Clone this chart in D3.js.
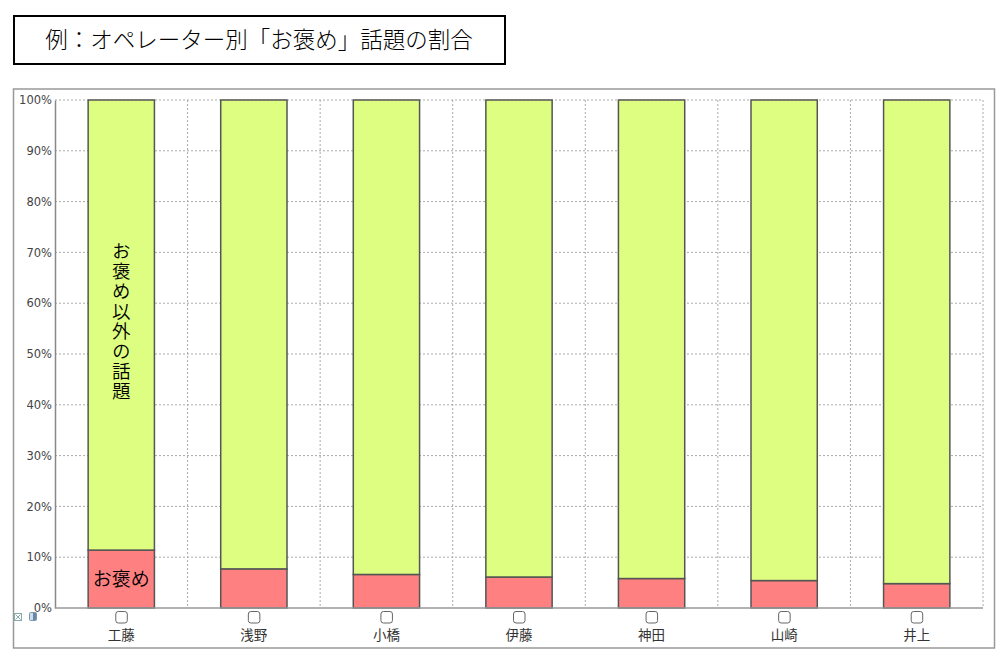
<!DOCTYPE html>
<html>
<head>
<meta charset="utf-8">
<script src="https://cdn.jsdelivr.net/npm/d3@7"></script>
<style>
  body { margin: 0; background: #fff; }
  svg { display: block; }
</style>
</head>
<body>
<div class="chart"></div>
<script>
// Data (percent)
var operators = ["工藤", "浅野", "小橋", "伊藤", "神田", "山崎", "井上"];
var praise = [11.4, 7.7, 6.6, 6.1, 5.8, 5.4, 4.8];
var other = praise.map(function(d) { return 100 - d; });
var y_ticks = [0, 10, 20, 30, 40, 50, 60, 70, 80, 90, 100];

var width = 1007, height = 662;
var plot = {left: 55, right: 983, top: 100, bottom: 608};

var svg = d3.select('.chart')
    .append('svg')
        .attr('width', width)
        .attr('height', height);

// title box
svg.append('rect')
    .attr('x', 14).attr('y', 16)
    .attr('width', 491).attr('height', 48)
    .attr('fill', 'none')
    .attr('stroke', '#000')
    .attr('stroke-width', 2);

svg.append('text')
    .attr('x', 259).attr('y', 48)
    .attr('text-anchor', 'middle')
    .style('font-family', '"Noto Sans CJK JP", sans-serif')
    .style('font-size', '22.5px')
    .style('font-weight', 300)
    .attr('fill', '#000')
    .text('例：オペレーター別「お褒め」話題の割合');

// chart frame
svg.append('rect')
    .attr('x', 13.5).attr('y', 89)
    .attr('width', 981).attr('height', 559)
    .attr('fill', 'none')
    .attr('stroke', '#999')
    .attr('stroke-width', 1.5);

var x = d3.scaleBand()
    .domain(operators)
    .range([plot.left, plot.right])
    .paddingInner(0.5)
    .paddingOuter(0.25);

var x_edges = d3.scaleLinear()
    .domain([0, operators.length])
    .range([plot.left, plot.right]);

var y = d3.scaleLinear()
    .domain([0, 100])
    .range([plot.bottom, plot.top]);

// horizontal grid
svg.append('g')
    .selectAll('line')
    .data(y_ticks.slice(1))
    .enter()
    .append('line')
        .attr('x1', plot.left).attr('x2', plot.right)
        .attr('y1', function(d) { return y(d); })
        .attr('y2', function(d) { return y(d); })
        .attr('stroke', '#aaa')
        .attr('stroke-dasharray', '2,2');

// vertical grid at category boundaries
svg.append('g')
    .selectAll('line')
    .data(d3.range(1, operators.length + 1))
    .enter()
    .append('line')
        .attr('x1', function(d) { return x_edges(d); })
        .attr('x2', function(d) { return x_edges(d); })
        .attr('y1', plot.top).attr('y2', plot.bottom)
        .attr('stroke', '#aaa')
        .attr('stroke-dasharray', '2,2');

// y axis
var y_axis = svg.append('g')
    .attr('transform', 'translate(' + plot.left + ',0)')
    .call(d3.axisLeft(y).tickValues(y_ticks).tickSize(0).tickPadding(3)
        .tickFormat(function(d) { return d + '%'; }));
y_axis.select('.domain').attr('stroke', '#888').attr('stroke-width', 1.5);
y_axis.selectAll('text')
    .style('font-family', '"DejaVu Sans", Verdana, sans-serif')
    .style('font-size', '11.5px')
    .attr('fill', '#444');

// stacked bars
var rows = operators.map(function(name, i) {
    return {name: name, praise: praise[i], other: other[i]};
});
var stack = d3.stack().keys(['praise', 'other'])(rows);
var colors = {praise: '#ff8080', other: '#ddfe80'};

svg.append('g')
    .selectAll('g')
    .data(stack)
    .enter()
    .append('g')
        .attr('fill', function(d) { return colors[d.key]; })
    .selectAll('rect')
    .data(function(d) { return d; })
    .enter()
    .append('rect')
        .attr('x', function(d) { return x(d.data.name); })
        .attr('width', x.bandwidth())
        .attr('y', function(d) { return y(d[1]); })
        .attr('height', function(d) { return y(d[0]) - y(d[1]); })
        .attr('stroke', '#555')
        .attr('stroke-width', 1.5);

// baseline
svg.append('line')
    .attr('x1', plot.left).attr('x2', plot.right)
    .attr('y1', plot.bottom).attr('y2', plot.bottom)
    .attr('stroke', '#999')
    .attr('stroke-width', 1.5);

// labels inside first bar
var first = operators[0];
svg.append('text')
    .attr('x', x(first) + x.bandwidth() / 2)
    .attr('y', (y(0) + y(praise[0])) / 2 + 7)
    .attr('text-anchor', 'middle')
    .style('font-family', '"Noto Sans CJK JP", sans-serif')
    .style('font-size', '19px')
    .style('font-weight', 350)
    .attr('fill', '#000')
    .text('お褒め');

svg.append('text')
    .attr('x', x(first) + x.bandwidth() / 2)
    .attr('y', (y(praise[0]) + y(100)) / 2 - 3)
    .attr('text-anchor', 'middle')
    .style('writing-mode', 'vertical-rl')
    .style('text-orientation', 'upright')
    .style('letter-spacing', '1.5px')
    .style('font-family', '"Noto Sans CJK JP", sans-serif')
    .style('font-size', '18.5px')
    .style('font-weight', 350)
    .attr('fill', '#000')
    .text('お褒め以外の話題');

// checkboxes and category labels
var cats = svg.append('g')
    .selectAll('g')
    .data(operators)
    .enter()
    .append('g')
        .attr('transform', function(d) {
            return 'translate(' + (x(d) + x.bandwidth() / 2) + ',0)';
        });

cats.append('rect')
    .attr('x', -5.5).attr('y', 611.5)
    .attr('width', 11.5).attr('height', 11.5)
    .attr('rx', 2.5)
    .attr('fill', '#fff')
    .attr('stroke', '#666');

cats.append('text')
    .attr('y', 640)
    .attr('text-anchor', 'middle')
    .style('font-family', '"Noto Sans CJK JP", sans-serif')
    .style('font-size', '13.5px')
    .attr('fill', '#333')
    .text(function(d) { return d; });

// small toolbar icons bottom left
svg.append('rect')
    .attr('x', 14.5).attr('y', 613.5).attr('width', 7).attr('height', 7)
    .attr('fill', '#fff').attr('stroke', '#8aa');
svg.append('path')
    .attr('d', 'M15.5,614.5L20.5,619.5M20.5,614.5L15.5,619.5')
    .attr('stroke', '#8aa');
svg.append('rect')
    .attr('x', 29.5).attr('y', 612.5).attr('width', 7).attr('height', 8)
    .attr('rx', 1)
    .attr('fill', '#cde').attr('stroke', '#79a');
svg.append('rect')
    .attr('x', 33).attr('y', 613).attr('width', 3).attr('height', 7)
    .attr('fill', '#68a');
</script>
</body>
</html>
